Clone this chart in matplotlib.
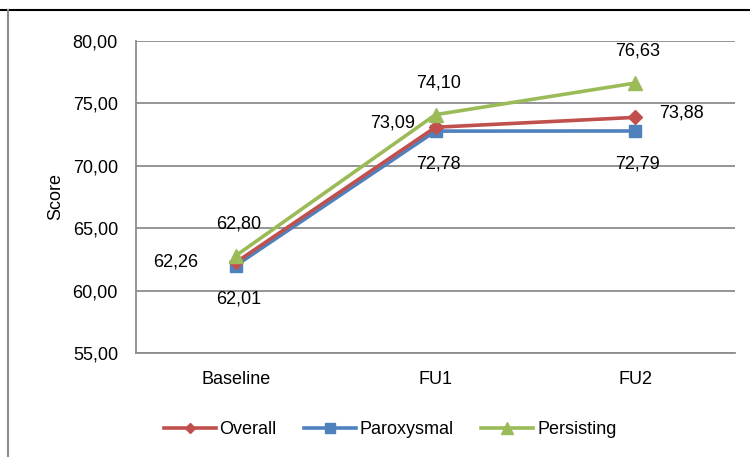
import matplotlib
matplotlib.use("Agg")
import matplotlib.pyplot as plt
from matplotlib.lines import Line2D

plt.rcParams['font.family'] = ['Liberation Sans', 'DejaVu Sans']

categories = ['Baseline', 'FU1', 'FU2']
overall = [62.26, 73.09, 73.88]
paroxysmal = [62.01, 72.78, 72.79]
persisting = [62.80, 74.10, 76.63]
yticks = [55, 60, 65, 70, 75, 80]


def fmt(v):
    return f"{v:.2f}".replace('.', ',')


fig = plt.figure(figsize=(7.5, 4.57), dpi=100)
ax = fig.add_axes([136 / 750, 1 - 353 / 457, 599 / 750, 312 / 457])

x = list(range(len(categories)))
ax.plot(x, paroxysmal, color='#4F81BD', lw=2.6, marker='s', ms=9, label='Paroxysmal', zorder=3)
ax.plot(x, overall, color='#C0504D', lw=2.6, marker='D', ms=7, label='Overall', zorder=4)
ax.plot(x, persisting, color='#9BBB59', lw=2.6, marker='^', ms=10, label='Persisting', zorder=5)

fs = 13
# Overall labels
ax.annotate(fmt(overall[0]), (0, overall[0]), xytext=(-43, 0), textcoords='offset points',
            ha='center', va='center', fontsize=fs)
ax.annotate(fmt(overall[1]), (1, overall[1]), xytext=(-31, 3), textcoords='offset points',
            ha='center', va='center', fontsize=fs)
ax.annotate(fmt(overall[2]), (2, overall[2]), xytext=(33, 3), textcoords='offset points',
            ha='center', va='center', fontsize=fs)
# Paroxysmal labels
for i, v in enumerate(paroxysmal):
    ax.annotate(fmt(v), (i, v), xytext=(2, -24), textcoords='offset points',
                ha='center', va='center', fontsize=fs)
# Persisting labels
for i, v in enumerate(persisting):
    ax.annotate(fmt(v), (i, v), xytext=(2, 23), textcoords='offset points',
                ha='center', va='center', fontsize=fs)

ax.set_xlim(-0.5, 2.5)
ax.set_ylim(55, 80)
ax.set_yticks(yticks)
ax.set_yticklabels([fmt(t) for t in yticks], fontsize=fs)
ax.set_xticks(x)
ax.set_xticklabels(categories, fontsize=fs)
ax.tick_params(length=0, pad=13)
ax.tick_params(axis='x', pad=13)
ax.grid(axis='y', color='#8C8C8C', lw=1.3)
ax.set_axisbelow(True)
for side in ['top', 'right']:
    ax.spines[side].set_visible(False)
ax.spines['left'].set_color('#8C8C8C')
ax.spines['bottom'].set_color('#8C8C8C')
ax.spines['left'].set_linewidth(1.3)
ax.spines['bottom'].set_linewidth(1.3)
ax.set_ylabel('Score', fontsize=fs, labelpad=6)

handles, labels = ax.get_legend_handles_labels()
order = [1, 0, 2]
fig.legend([handles[i] for i in order], [labels[i] for i in order],
           loc='center', bbox_to_anchor=(0.52, 1 - 430 / 457), ncol=3, frameon=False,
           fontsize=fs, handlelength=2.9, columnspacing=1.5, handletextpad=0.2,
           markerscale=0.8)

# outer frame lines
fig.add_artist(Line2D([0, 1], [1 - 10 / 457, 1 - 10 / 457], color='black', lw=1.5))
fig.add_artist(Line2D([8 / 750, 8 / 750], [0, 1 - 10 / 457], color='#8C8C8C', lw=1.5))

fig.savefig('out.png', dpi=100)
